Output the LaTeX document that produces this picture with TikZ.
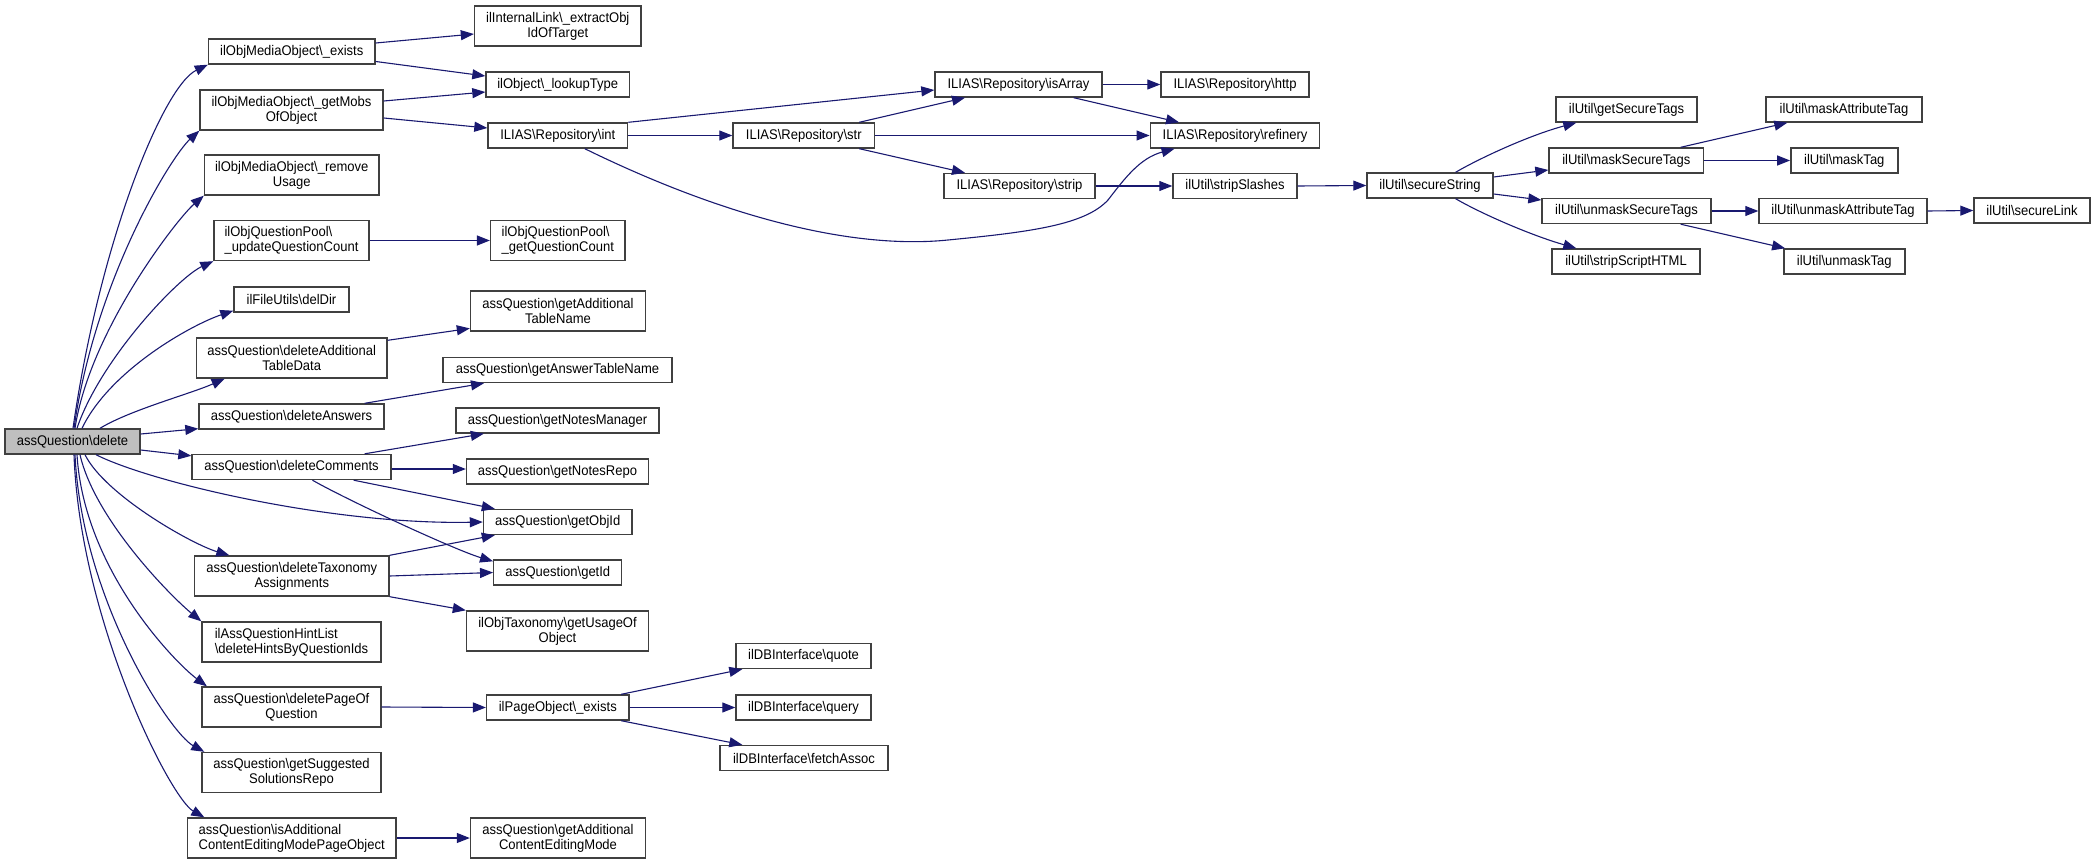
\documentclass[tikz,border=0pt]{standalone}
\usepackage{fontspec}
\setmainfont{Liberation Sans}[FakeStretch=0.93]
\usetikzlibrary{arrows.meta}
\definecolor{edgec}{HTML}{191970}
\definecolor{boxc}{HTML}{404040}
\definecolor{rootc}{HTML}{BFBFBF}
\newcommand\bsl{\textbackslash}
\begin{document}
\begin{tikzpicture}[x=1pt,y=-1pt,
  box/.style={draw=boxc, line width=1.4pt, fill=white, inner sep=0pt, minimum height=25pt, align=center, font=\fontsize{14}{15}\selectfont},
  two/.style={minimum height=40pt},
  lbox/.style={align=left},
  edge/.style={draw=edgec, line width=1.1pt, -{Triangle[length=13pt,width=10pt]}}]
\useasboundingbox (0,0) rectangle (2095,864);

% root
\node[box, minimum width=135pt, fill=rootc] (delete) at (72.5,441.5) {assQuestion\bsl delete};

% column 1
\node[box, minimum width=166.5pt] (exists) at (291.75,51.5) {ilObjMediaObject\bsl\_exists};
\node[box, two, minimum width=183pt] (getMobs) at (291.5,110) {ilObjMediaObject\bsl\_getMobs\\OfObject};
\node[box, two, minimum width=174.5pt] (removeUsage) at (291.75,175) {ilObjMediaObject\bsl\_remove\\Usage};
\node[box, two, lbox, minimum width=155pt] (updQC) at (291.5,240.5) {ilObjQuestionPool\bsl\\\_updateQuestionCount};
\node[box, minimum width=115pt] (delDir) at (291.5,299.5) {ilFileUtils\bsl delDir};
\node[box, two, minimum width=190.6pt] (delAddTD) at (291.7,358) {assQuestion\bsl deleteAdditional\\TableData};
\node[box, minimum width=185pt] (delAns) at (291.5,416.5) {assQuestion\bsl deleteAnswers};
\node[box, minimum width=199pt] (delComm) at (291.5,467) {assQuestion\bsl deleteComments};
\node[box, two, minimum width=194.4pt] (delTax) at (291.8,576) {assQuestion\bsl deleteTaxonomy\\Assignments};
\node[box, two, lbox, minimum width=179pt] (hint) at (291.5,642) {ilAssQuestionHintList\\\bsl deleteHintsByQuestionIds};
\node[box, two, minimum width=179pt] (delPage) at (291.5,707) {assQuestion\bsl deletePageOf\\Question};
\node[box, two, minimum width=179pt] (sugg) at (291.5,772.5) {assQuestion\bsl getSuggested\\SolutionsRepo};
\node[box, two, lbox, minimum width=208.5pt] (isAdd) at (291.75,838) {assQuestion\bsl isAdditional\\ContentEditingModePageObject};

% column 2
\node[box, two, minimum width=166.5pt] (extract) at (557.75,26) {ilInternalLink\bsl\_extractObj\\IdOfTarget};
\node[box, minimum width=143.5pt] (lookupType) at (557.75,84.5) {ilObject\bsl\_lookupType};
\node[box, minimum width=139.6pt] (int) at (557.8,135.5) {ILIAS\bsl Repository\bsl int};
\node[box, two, lbox, minimum width=134.4pt] (getQC) at (557.8,240.5) {ilObjQuestionPool\bsl\\\_getQuestionCount};
\node[box, two, minimum width=175pt] (getAddTN) at (558,311) {assQuestion\bsl getAdditional\\TableName};
\node[box, minimum width=229pt] (getAnsTN) at (557.5,370) {assQuestion\bsl getAnswerTableName};
\node[box, minimum width=203pt] (getNotesMgr) at (557.5,420.5) {assQuestion\bsl getNotesManager};
\node[box, minimum width=182pt] (getNotesRepo) at (557.5,471.5) {assQuestion\bsl getNotesRepo};
\node[box, minimum width=148.5pt] (getObjId) at (557.75,522) {assQuestion\bsl getObjId};
\node[box, minimum width=128pt] (getId) at (557.75,572.5) {assQuestion\bsl getId};
\node[box, two, minimum width=182pt] (getUsage) at (557.5,631) {ilObjTaxonomy\bsl getUsageOf\\Object};
\node[box, minimum width=142.4pt] (pageExists) at (557.8,707.5) {ilPageObject\bsl\_exists};
\node[box, two, minimum width=175pt] (getACEM) at (558,838) {assQuestion\bsl getAdditional\\ContentEditingMode};

% column 3
\node[box, minimum width=141.6pt] (str) at (803.8,135.5) {ILIAS\bsl Repository\bsl str};
\node[box, minimum width=135pt] (quote) at (803.5,656) {ilDBInterface\bsl quote};
\node[box, minimum width=135pt] (query) at (803.5,707.5) {ilDBInterface\bsl query};
\node[box, minimum width=168pt] (fetch) at (804,758) {ilDBInterface\bsl fetchAssoc};

% column 4
\node[box, minimum width=167pt] (isArray) at (1018.5,84.5) {ILIAS\bsl Repository\bsl isArray};
\node[box, minimum width=151pt] (strip) at (1019.5,186) {ILIAS\bsl Repository\bsl strip};

% column 5
\node[box, minimum width=148pt] (http) at (1235,84.5) {ILIAS\bsl Repository\bsl http};
\node[box, minimum width=169.5pt] (refinery) at (1235,135.5) {ILIAS\bsl Repository\bsl refinery};
\node[box, minimum width=124pt] (stripSlashes) at (1235,186) {ilUtil\bsl stripSlashes};

% column 6
\node[box, minimum width=126pt] (secureString) at (1430,185.5) {ilUtil\bsl secureString};

% column 7
\node[box, minimum width=141pt] (getSecureTags) at (1626.5,109.5) {ilUtil\bsl getSecureTags};
\node[box, minimum width=154.6pt] (maskSecureTags) at (1626.3,160.5) {ilUtil\bsl maskSecureTags};
\node[box, minimum width=169pt] (unmaskSecureTags) at (1626.5,211) {ilUtil\bsl unmaskSecureTags};
\node[box, minimum width=148pt] (stripScriptHTML) at (1626,261.5) {ilUtil\bsl stripScriptHTML};

% column 8
\node[box, minimum width=156pt] (maskAttributeTag) at (1844,109.5) {ilUtil\bsl maskAttributeTag};
\node[box, minimum width=107pt] (maskTag) at (1844.3,160.5) {ilUtil\bsl maskTag};
\node[box, minimum width=168pt] (unmaskAttributeTag) at (1843,211) {ilUtil\bsl unmaskAttributeTag};
\node[box, minimum width=121pt] (unmaskTag) at (1844.3,261.5) {ilUtil\bsl unmaskTag};

% column 9
\node[box, minimum width=116pt] (secureLink) at (2032,210.5) {ilUtil\bsl secureLink};

% fan upward from root
\draw[edge] ([xshift=0.5pt]delete.north) .. controls (100,240) and (163.5,86) .. (exists.south west);
\draw[edge] ([xshift=1.5pt]delete.north) .. controls (95,280) and (170.8,156.8) .. (getMobs.south west);
\draw[edge] ([xshift=2.5pt]delete.north) .. controls (90,330) and (178,217.8) .. (removeUsage.south west);
\draw[edge] ([xshift=4.5pt]delete.north) .. controls (100,360) and (178,277.6) .. (updQC.south west);
\draw[edge] ([xshift=9.5pt]delete.north) .. controls (110,370) and (191.5,324.8) .. ([yshift=2pt]delDir.south west);
\draw[edge] ([xshift=27.5pt]delete.north) .. controls (130,410) and (190,394) .. ([xshift=29pt]delAddTD.south west);

% straight from root
\draw[edge] ([yshift=7.5pt]delete.east) -- ([yshift=1pt]delAns.south west);
\draw[edge] ([yshift=-8.5pt]delete.east) -- ([yshift=-2pt]delComm.north west);

% fan downward from root
\draw[edge] ([xshift=23.5pt]delete.south) .. controls (150,482) and (330,525) .. (getObjId.west);
\draw[edge] ([xshift=12.5pt]delete.south) .. controls (105,495) and (191.8,544.2) .. ([xshift=35.4pt]delTax.north west);
\draw[edge] ([xshift=7.5pt]delete.south) .. controls (95,520) and (171.8,597.2) .. (hint.north west);
\draw[edge] ([xshift=4.5pt]delete.south) .. controls (84,570) and (175.6,663) .. ([xshift=5.6pt]delPage.north west);
\draw[edge] ([xshift=2.5pt]delete.south) .. controls (82,600) and (170,733) .. ([xshift=3pt]sugg.north west);
\draw[edge] ([xshift=1.5pt]delete.south) .. controls (80,620) and (170,798) .. ([xshift=17.5pt]isAdd.north west);

% column 1 -> column 2
\draw[edge] ([yshift=8.5pt]exists.east) -- ([yshift=-8pt]extract.west);
\draw[edge] ([yshift=-10pt]exists.east) -- ([yshift=8.5pt]lookupType.west);
\draw[edge] ([yshift=9pt]getMobs.east) -- ([yshift=-7.5pt]lookupType.west);
\draw[edge] ([yshift=-8pt]getMobs.east) -- ([yshift=7.5pt]int.west);
\draw[edge] (updQC.east) -- (getQC.west);
\draw[edge] ([yshift=-3pt]delAddTD.north east) -- ([yshift=3.3pt]getAddTN.south west);
\draw[edge] ([xshift=-20pt]delAns.north east) -- ([xshift=-73.5pt]getAnsTN.south);
\draw[edge] ([xshift=-27pt]delComm.north east) -- ([xshift=28.5pt]getNotesMgr.south west);
\draw[edge] ([yshift=-2pt]delComm.east) -- ([yshift=2.5pt]getNotesRepo.west);
\draw[edge] ([xshift=-38pt]delComm.south east) -- ([xshift=12pt]getObjId.north west);
\draw[edge] ([xshift=21pt]delComm.south) .. controls (347,500) and (455,550) .. ([yshift=-2pt]getId.north west);
\draw[edge] (delTax.north east) -- ([xshift=12pt]getObjId.south west);
\draw[edge] (delTax.east) -- (getId.west);
\draw[edge] (delTax.south east) -- (getUsage.north west);
\draw[edge] (delPage.east) -- (pageExists.west);
\draw[edge] (isAdd.east) -- (getACEM.west);

% ILIAS Repository
\draw[edge] (int.north east) -- ([yshift=-5.5pt]isArray.west);
\draw[edge] (int.east) -- (str.west);
\draw[edge] ([xshift=27pt]int.south) .. controls (720,215) and (850,250) .. (948,240)
  .. controls (1030,232) and (1085,225) .. (1108,200)
  .. controls (1125,178) and (1140,158) .. ([xshift=25pt]refinery.south west);
\draw[edge] ([xshift=-16pt]str.north east) -- ([xshift=30.7pt]isArray.south west);
\draw[edge] (str.east) -- (refinery.west);
\draw[edge] ([xshift=-16pt]str.south east) -- ([xshift=21.7pt]strip.north west);
\draw[edge] (isArray.east) -- (http.west);
\draw[edge] ([xshift=-29pt]isArray.south east) -- ([xshift=29.5pt]refinery.north west);
\draw[edge] (strip.east) -- (stripSlashes.west);
\draw[edge] (stripSlashes.east) -- (secureString.west);

% ilUtil
\draw[edge] ([xshift=25.6pt]secureString.north) .. controls (1480,158) and (1530,135) .. ([xshift=21pt]getSecureTags.south west);
\draw[edge] ([yshift=8.5pt]secureString.east) -- ([yshift=-9.5pt]maskSecureTags.west);
\draw[edge] ([yshift=-8.5pt]secureString.east) -- ([yshift=11pt]unmaskSecureTags.west);
\draw[edge] ([xshift=25.6pt]secureString.south) .. controls (1480,213) and (1530,235) .. ([xshift=25pt]stripScriptHTML.north west);
\draw[edge] ([xshift=-23.6pt]maskSecureTags.north east) -- ([xshift=22pt]maskAttributeTag.south west);
\draw[edge] (maskSecureTags.east) -- (maskTag.west);
\draw[edge] (unmaskSecureTags.east) -- (unmaskAttributeTag.west);
\draw[edge] ([xshift=-31pt]unmaskSecureTags.south east) -- ([xshift=2pt]unmaskTag.north west);
\draw[edge] (unmaskAttributeTag.east) -- (secureLink.west);

% page object
\draw[edge] ([xshift=-8.5pt]pageExists.north east) -- ([xshift=7pt]quote.south west);
\draw[edge] (pageExists.east) -- (query.west);
\draw[edge] ([xshift=-8.5pt]pageExists.south east) -- ([xshift=23pt]fetch.north west);
\end{tikzpicture}
\end{document}
